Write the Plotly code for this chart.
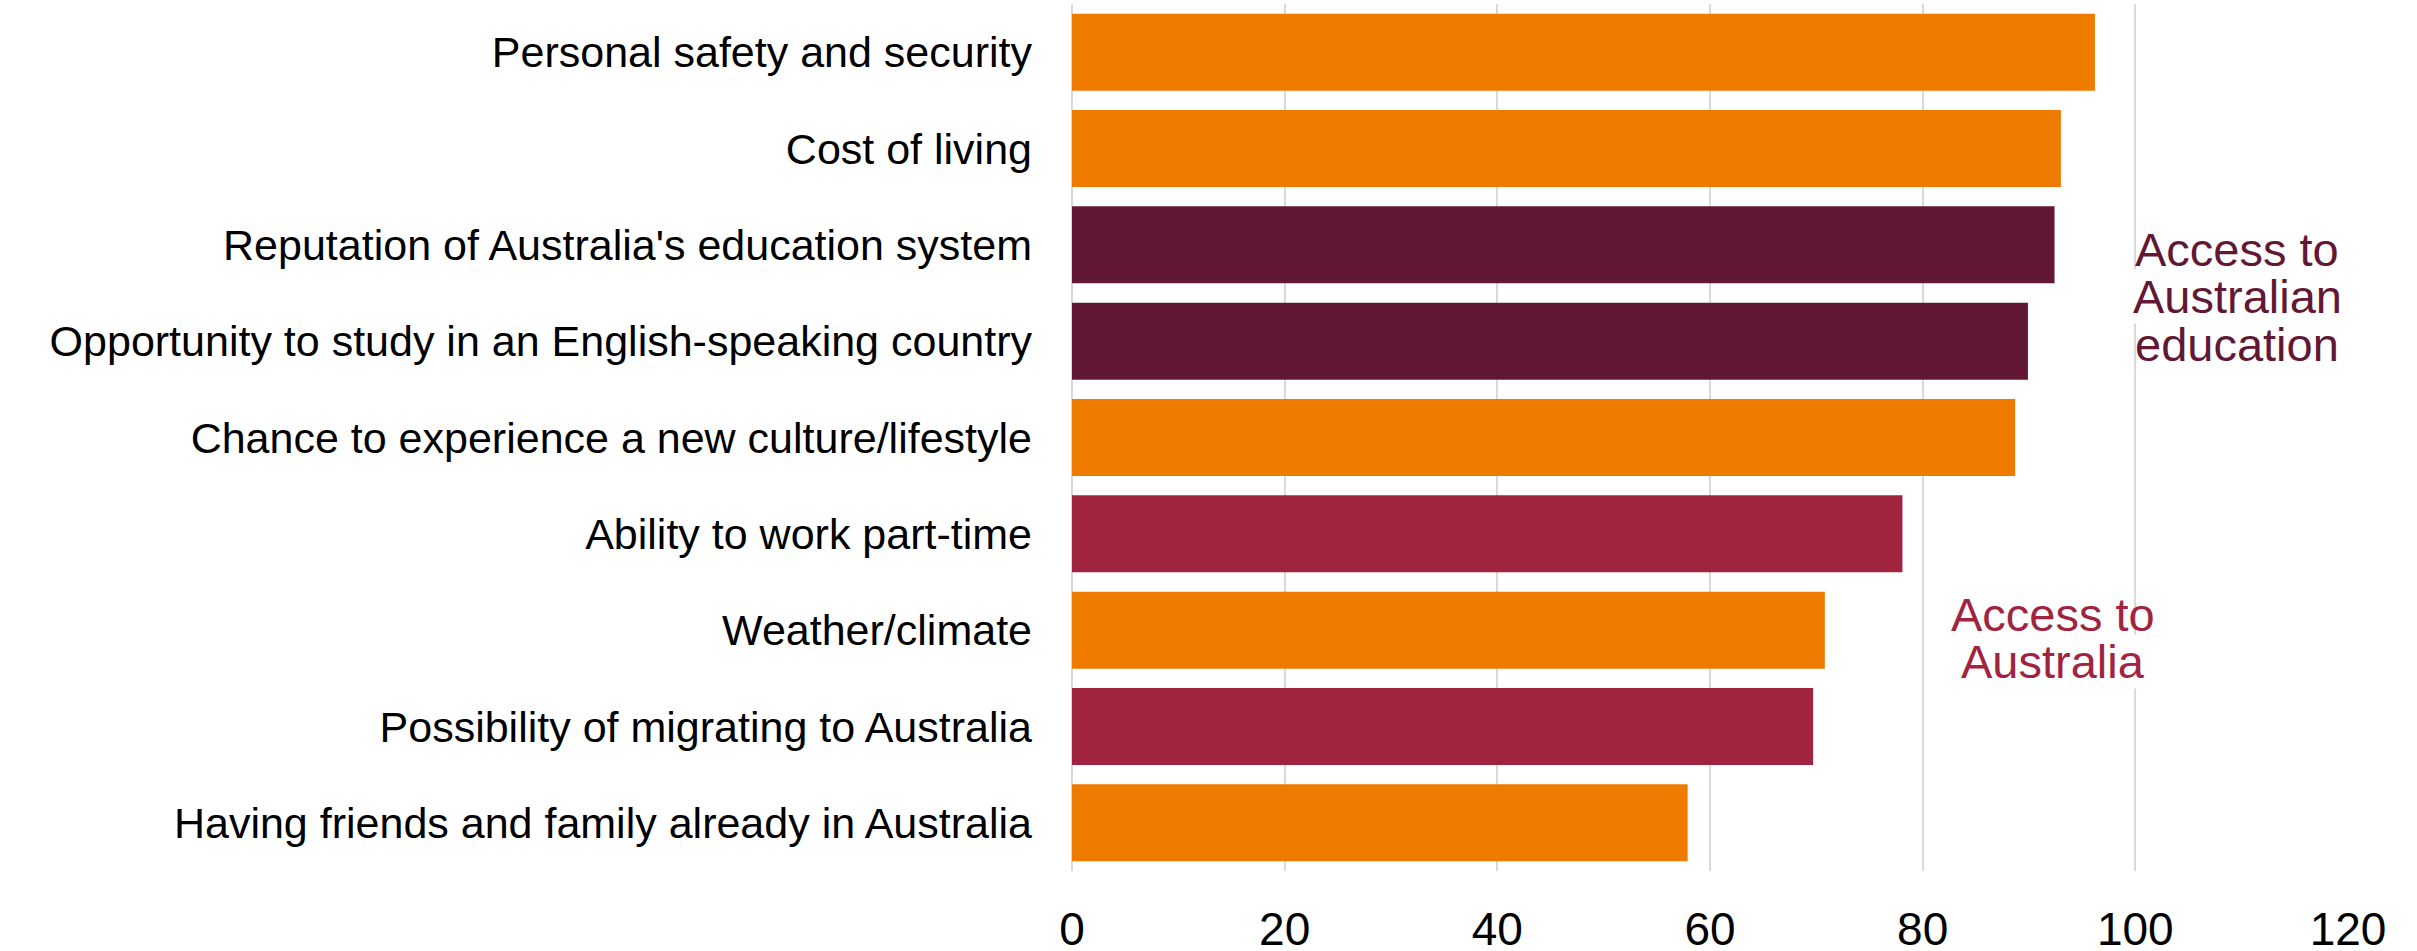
import plotly.graph_objects as go

# reasons for choosing Australia, top to bottom as in the chart
reasons = [
    "Personal safety and security",
    "Cost of living",
    "Reputation of Australia's education system",
    "Opportunity to study in an English-speaking country",
    "Chance to experience a new culture/lifestyle",
    "Ability to work part-time",
    "Weather/climate",
    "Possibility of migrating to Australia",
    "Having friends and family already in Australia",
]
scores = [96.2, 93.0, 92.4, 89.9, 88.7, 78.1, 70.8, 69.7, 57.9]
groups = ["other", "other", "education", "education", "other",
          "australia", "other", "australia", "other"]
x_ticks = [0, 20, 40, 60, 80, 100, 120]

# colours
colour_map = {"other": "#EF7A00", "education": "#621834", "australia": "#A1243F"}
bar_colours = [colour_map[g] for g in groups]

fig = go.Figure(go.Bar(
    x=scores,
    y=reasons,
    orientation="h",
    marker=dict(color=bar_colours, line=dict(width=0)),
    showlegend=False,
))

W, H = 2417, 951
m_top, m_bot = 4, 80
plot_bottom = H - m_bot

fig.update_layout(
    width=W,
    height=H,
    margin=dict(l=1072, r=69, t=m_top, b=m_bot),
    plot_bgcolor="white",
    paper_bgcolor="white",
    bargap=0.2,
    font=dict(family="Liberation Sans, Arial, sans-serif", color="black"),
)

fig.update_xaxes(
    range=[0, 120],
    tickvals=x_ticks,
    showgrid=True,
    gridcolor="#D9D9D9",
    gridwidth=2,
    zeroline=True,
    zerolinecolor="#D9D9D9",
    zerolinewidth=2,
    showline=False,
    tickfont=dict(size=46),
    ticklabelstandoff=27,
    automargin=False,
)

fig.update_yaxes(
    categoryorder="array",
    categoryarray=reasons,
    autorange="reversed",
    showgrid=False,
    showline=False,
    tickfont=dict(size=43),
    ticklabelstandoff=39,
    automargin=False,
)

# group labels, one line at a time so the spacing matches the original
edu_lines = ["Access to", "Australian", "education"]
aus_lines = ["Access to", "Australia"]
for i, line in enumerate(edu_lines):
    fig.add_annotation(
        x=109.6, y=0, yref="paper", xref="x",
        yanchor="middle", yshift=plot_bottom - (249 + i * 47.5),
        text=line, showarrow=False,
        font=dict(size=47, color=colour_map["education"]),
        bgcolor="white" if i == 1 else "rgba(0,0,0,0)",
        borderpad=0,
    )
for i, line in enumerate(aus_lines):
    fig.add_annotation(
        x=92.3, y=0, yref="paper", xref="x",
        yanchor="middle", yshift=plot_bottom - (614 + i * 47.5),
        text=line, showarrow=False,
        font=dict(size=47, color=colour_map["australia"]),
        bgcolor="white" if i == 1 else "rgba(0,0,0,0)",
        borderpad=0,
    )

# drop the browser's default body margin so the figure sits at the top-left
fig.write_html(
    "out.html",
    config={"displayModeBar": False},
    post_script="document.body.style.margin='0';",
)
